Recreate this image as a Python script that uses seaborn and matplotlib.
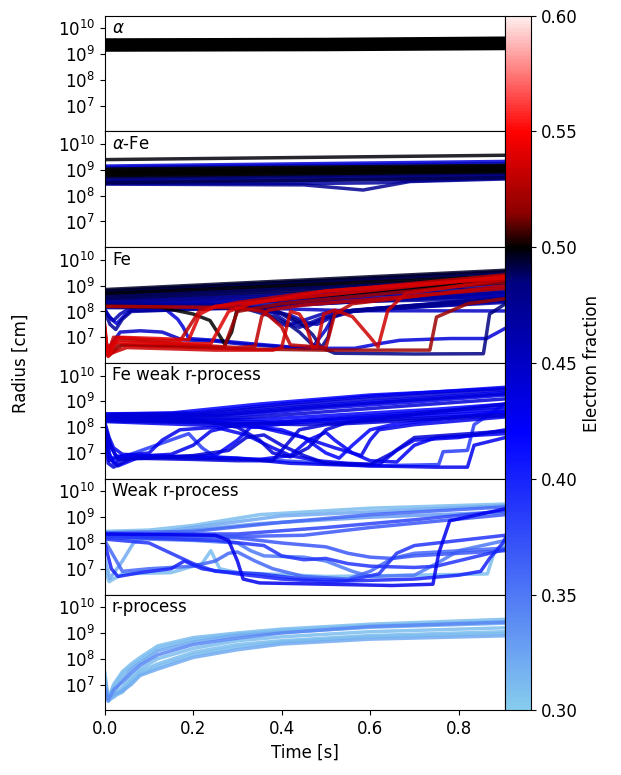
import numpy as np
import pandas as pd
import matplotlib
matplotlib.use('Agg')
import matplotlib.pyplot as plt
import seaborn as sns
from matplotlib.colors import LinearSegmentedColormap, Normalize
from matplotlib.cm import ScalarMappable
from matplotlib.ticker import NullLocator

# trajectories: lists of (time [s], log10 radius [cm]),
# each with its electron fraction

ALPHA_YE = [0.5, 0.5, 0.5, 0.5, 0.5, 0.5, 0.5, 0.5, 0.5, 0.5]
ALPHA_TRACKS = [
    [(0, 9.16), (0.5, 9.18), (0.906, 9.22)],
    [(0, 9.20), (0.5, 9.22), (0.906, 9.26)],
    [(0, 9.25), (0.5, 9.27), (0.906, 9.31)],
    [(0, 9.30), (0.5, 9.32), (0.906, 9.36)],
    [(0, 9.34), (0.5, 9.36), (0.906, 9.41)],
    [(0, 9.39), (0.5, 9.41), (0.906, 9.46)],
    [(0, 9.43), (0.5, 9.45), (0.906, 9.50)],
    [(0, 9.48), (0.5, 9.50), (0.906, 9.55)],
    [(0, 9.52), (0.5, 9.54), (0.906, 9.59)],
    [(0, 9.55), (0.5, 9.57), (0.906, 9.62)],
]

ALPHAFE_YE = [0.499, 0.44, 0.45, 0.5, 0.5, 0.5, 0.5, 0.5, 0.5, 0.49, 0.485, 0.48,
              0.48, 0.475, 0.47, 0.49]
ALPHAFE_TRACKS = [
    [(0, 9.40), (0.906, 9.57)],
    [(0, 9.15), (0.906, 9.33)],
    [(0, 9.09), (0.906, 9.25)],
    [(0, 9.03), (0.906, 9.18)],
    [(0, 8.98), (0.906, 9.13)],
    [(0, 8.93), (0.906, 9.08)],
    [(0, 8.88), (0.906, 9.03)],
    [(0, 8.83), (0.906, 8.98)],
    [(0, 8.78), (0.906, 8.93)],
    [(0, 8.72), (0.906, 8.89)],
    [(0, 8.66), (0.906, 8.83)],
    [(0, 8.60), (0.906, 8.78)],
    [(0, 8.54), (0.5, 8.60), (0.906, 8.72)],
    [(0, 8.45), (0.45, 8.42), (0.584, 8.22), (0.69, 8.55), (0.906, 8.65)],
    [(0, 8.48), (0.5, 8.48), (0.62, 8.50), (0.70, 8.58), (0.906, 8.68)],
    [(0, 8.50), (0.906, 8.70)],
]

FE_YE = [0.495, 0.49, 0.485, 0.5, 0.48, 0.47, 0.49, 0.46, 0.48, 0.47, 0.46, 0.45, 0.47,
         0.49, 0.48,
         0.53, 0.54, 0.52, 0.53, 0.535, 0.52, 0.54, 0.53,
         0.5, 0.44, 0.45,
         0.46, 0.465, 0.47, 0.46, 0.48, 0.485, 0.45, 0.46, 0.47]
FE_TRACKS = [
    [(0, 8.85), (0.906, 9.60)],
    [(0, 8.80), (0.906, 9.52)],
    [(0, 8.75), (0.906, 9.45)],
    [(0, 8.70), (0.906, 9.38)],
    [(0, 8.65), (0.906, 9.30)],
    [(0, 8.55), (0.906, 9.20)],
    [(0, 8.50), (0.906, 9.10)],
    [(0, 8.45), (0.906, 9.00)],
    [(0, 8.40), (0.906, 8.90)],
    [(0, 8.35), (0.906, 8.80)],
    [(0, 8.30), (0.906, 8.70)],
    [(0, 8.25), (0.906, 8.60)],
    [(0, 8.20), (0.906, 8.50)],
    [(0, 8.60), (0.906, 9.25)],
    [(0, 8.78), (0.906, 9.55)],
    # red (proton-rich) trajectories
    [(0, 7.4), (0.006, 6.3), (0.02, 7.0), (0.1, 6.9), (0.17, 6.85), (0.215, 8.05),
     (0.3, 8.35), (0.45, 8.7), (0.906, 9.42)],
    [(0, 7.2), (0.008, 6.25), (0.025, 6.8), (0.15, 6.75), (0.24, 6.75), (0.28, 8.0),
     (0.33, 8.3), (0.5, 8.8), (0.906, 9.3)],
    [(0, 7.0), (0.01, 6.3), (0.03, 6.7), (0.2, 6.65), (0.27, 6.6), (0.3, 8.0),
     (0.4, 8.3), (0.906, 9.15)],
    [(0, 7.3), (0.006, 6.4), (0.03, 6.9), (0.2, 6.7), (0.3, 6.6), (0.34, 6.65),
     (0.355, 7.8), (0.37, 8.05), (0.45, 8.25), (0.906, 8.9)],
    [(0, 6.9), (0.01, 6.35), (0.05, 6.6), (0.25, 6.5), (0.38, 6.5), (0.4, 6.6),
     (0.42, 8.0), (0.44, 7.9), (0.455, 7.5), (0.47, 6.6), (0.48, 6.65), (0.495, 7.9),
     (0.52, 8.05), (0.56, 7.8), (0.6, 7.0), (0.618, 6.62), (0.64, 8.04), (0.68, 8.7),
     (0.906, 9.25)],
    [(0, 7.1), (0.01, 6.3), (0.04, 6.7), (0.3, 6.55), (0.5, 6.5), (0.735, 6.5),
     (0.75, 7.78), (0.82, 8.3), (0.906, 8.5)],
    [(0, 7.5), (0.005, 6.5), (0.03, 7.0), (0.12, 6.95), (0.19, 6.9), (0.2, 7.3),
     (0.215, 7.9), (0.25, 8.2), (0.906, 9.35)],
    [(0, 8.2), (0.3, 8.15), (0.36, 8.0), (0.4, 7.4), (0.42, 6.7), (0.5, 6.6),
     (0.52, 7.9), (0.56, 8.3), (0.906, 9.0)],
    # black and blue excursions
    [(0, 8.2), (0.125, 8.17), (0.2, 7.9), (0.238, 7.65), (0.262, 7.0), (0.272, 6.72),
     (0.287, 7.2), (0.298, 8.0), (0.33, 8.37), (0.906, 9.2)],
    [(0, 8.04), (0.015, 7.7), (0.027, 7.53), (0.045, 7.85), (0.06, 8.04), (0.14, 8.05),
     (0.165, 7.7), (0.177, 7.4), (0.19, 6.95), (0.25, 6.88), (0.33, 6.75), (0.4, 6.65),
     (0.45, 6.57), (0.565, 6.57), (0.62, 6.75), (0.667, 6.88), (0.78, 6.95),
     (0.863, 6.95), (0.906, 7.35)],
    [(0, 6.5), (0.01, 6.6), (0.035, 7.2), (0.08, 7.25), (0.13, 7.2), (0.175, 6.9),
     (0.25, 6.85), (0.3, 6.75), (0.42, 6.6), (0.47, 6.62), (0.5, 7.3), (0.52, 7.9),
     (0.6, 8.1), (0.906, 8.5)],
    [(0, 8.3), (0.3, 8.25), (0.36, 8.0), (0.39, 7.6), (0.41, 7.45), (0.44, 7.6),
     (0.5, 7.95), (0.906, 8.55)],
    [(0, 8.25), (0.32, 8.2), (0.38, 7.95), (0.42, 7.5), (0.44, 7.38), (0.47, 7.6),
     (0.52, 7.95), (0.906, 8.45)],
    [(0, 8.2), (0.34, 8.15), (0.4, 7.9), (0.44, 7.5), (0.46, 7.42), (0.49, 7.7),
     (0.55, 8.0), (0.906, 8.4)],
    [(0, 8.15), (0.36, 8.1), (0.42, 7.85), (0.46, 7.55), (0.48, 7.5), (0.51, 7.75),
     (0.57, 8.05), (0.906, 8.35)],
    [(0, 8.28), (0.3, 8.2), (0.38, 7.8), (0.42, 7.45), (0.44, 7.2), (0.47, 6.7),
     (0.49, 6.6), (0.505, 7.0), (0.515, 7.8), (0.56, 8.05), (0.906, 8.5)],
    [(0, 8.22), (0.38, 8.1), (0.44, 7.6), (0.47, 7.1), (0.49, 6.6), (0.52, 6.38),
     (0.7, 6.35), (0.856, 6.36), (0.862, 7.0), (0.87, 7.9), (0.906, 8.3)],
    [(0, 8.18), (0.3, 8.15), (0.45, 8.08), (0.55, 8.03), (0.906, 8.02)],
    [(0, 8.1), (0.01, 7.8), (0.02, 7.65), (0.035, 7.9), (0.05, 8.05), (0.3, 8.15),
     (0.906, 8.65)],
    [(0, 8.0), (0.012, 7.5), (0.025, 7.3), (0.04, 7.7), (0.06, 8.0), (0.4, 8.2),
     (0.906, 8.75)],
]

FEWEAK_YE = [0.43, 0.44, 0.42, 0.43, 0.44, 0.42, 0.43, 0.44,
             0.43, 0.42, 0.44, 0.43, 0.425, 0.44, 0.43, 0.385, 0.44, 0.42, 0.43,
             0.42, 0.44]
FEWEAK_TRACKS = [
    [(0, 8.52), (0.2, 8.55), (0.4, 8.9), (0.6, 9.2), (0.906, 9.55)],
    [(0, 8.48), (0.2, 8.5), (0.4, 8.82), (0.6, 9.1), (0.906, 9.45)],
    [(0, 8.45), (0.25, 8.5), (0.45, 8.8), (0.65, 9.05), (0.906, 9.35)],
    [(0, 8.4), (0.3, 8.45), (0.5, 8.75), (0.7, 8.98), (0.906, 9.25)],
    [(0, 8.35), (0.3, 8.35), (0.5, 8.6), (0.7, 8.85), (0.906, 9.1)],
    [(0, 8.3), (0.35, 8.3), (0.55, 8.5), (0.75, 8.7), (0.906, 8.9)],
    [(0, 8.27), (0.4, 8.2), (0.6, 8.4), (0.906, 8.7)],
    [(0, 8.25), (0.45, 8.1), (0.65, 8.3), (0.906, 8.5)],
    [(0, 8.2), (0.01, 7.6), (0.02, 7.2), (0.04, 6.95), (0.1, 6.9), (0.2, 6.85),
     (0.3, 6.8), (0.42, 6.6), (0.6, 6.5), (0.75, 6.45), (0.82, 6.45), (0.835, 7.3),
     (0.906, 7.6)],
    [(0, 8.15), (0.01, 7.4), (0.025, 6.9), (0.05, 6.8), (0.15, 6.85), (0.25, 6.9),
     (0.3, 7.5), (0.33, 8.0), (0.45, 8.2), (0.906, 8.6)],
    [(0, 8.1), (0.015, 7.2), (0.03, 6.75), (0.1, 6.8), (0.2, 6.9), (0.28, 7.1),
     (0.32, 7.6), (0.36, 7.7), (0.4, 7.3), (0.45, 6.9), (0.5, 6.6), (0.6, 6.55),
     (0.65, 7.0), (0.7, 7.6), (0.906, 7.85)],
    [(0, 8.05), (0.01, 7.0), (0.02, 6.6), (0.05, 6.85), (0.15, 6.95), (0.2, 7.3),
     (0.24, 7.85), (0.3, 8.1), (0.906, 8.8)],
    [(0, 8.0), (0.012, 6.8), (0.03, 6.5), (0.08, 6.85), (0.2, 6.8), (0.35, 6.75),
     (0.42, 6.9), (0.46, 7.5), (0.5, 7.8), (0.52, 7.5), (0.56, 7.0), (0.6, 6.7),
     (0.66, 6.65), (0.7, 7.3), (0.75, 7.6), (0.906, 7.75)],
    [(0, 7.9), (0.008, 6.6), (0.02, 6.45), (0.06, 6.8), (0.2, 6.75), (0.3, 6.7),
     (0.38, 6.7), (0.41, 7.3), (0.44, 7.9), (0.5, 8.1), (0.906, 8.45)],
    [(0, 7.8), (0.01, 6.7), (0.04, 6.9), (0.1, 7.0), (0.13, 7.5), (0.17, 7.9),
     (0.25, 8.0), (0.32, 7.7), (0.38, 7.2), (0.42, 6.9), (0.48, 6.7), (0.55, 6.6),
     (0.62, 6.55), (0.66, 7.1), (0.7, 7.5), (0.8, 7.6), (0.906, 7.9)],
    [(0, 7.5), (0.01, 6.8), (0.05, 6.9), (0.19, 7.75), (0.22, 7.2), (0.25, 6.85),
     (0.4, 6.7), (0.6, 6.5), (0.755, 6.55), (0.765, 7.05), (0.82, 7.1), (0.835, 8.1),
     (0.906, 8.92)],
    [(0, 8.35), (0.2, 8.3), (0.3, 8.0), (0.35, 7.5), (0.38, 7.0), (0.42, 6.85),
     (0.46, 7.2), (0.5, 7.9), (0.55, 8.2), (0.906, 8.9)],
    [(0, 8.3), (0.25, 8.2), (0.4, 7.9), (0.45, 7.6), (0.5, 7.0), (0.53, 6.8),
     (0.56, 7.3), (0.6, 7.9), (0.65, 8.1), (0.906, 8.6)],
    [(0, 8.22), (0.35, 8.0), (0.45, 7.6), (0.52, 7.2), (0.58, 6.9), (0.6, 7.5),
     (0.62, 7.9), (0.7, 8.1), (0.906, 8.4)],
    [(0, 8.5), (0.15, 8.55), (0.35, 8.9), (0.6, 9.25), (0.906, 9.5)],
    [(0, 8.42), (0.25, 8.45), (0.45, 8.75), (0.65, 9.0), (0.906, 9.3)],
]

WEAK_YE = [0.31, 0.32, 0.36, 0.38, 0.43, 0.37, 0.35, 0.39, 0.36, 0.40, 0.31, 0.37,
           0.39, 0.33]
WEAK_TRACKS = [
    [(0, 8.45), (0.1, 8.5), (0.2, 8.68), (0.35, 9.1), (0.6, 9.35), (0.906, 9.51)],
    [(0, 7.4), (0.012, 6.62), (0.04, 7.3), (0.065, 8.0), (0.12, 8.4), (0.2, 8.6),
     (0.4, 9.05), (0.906, 9.45)],
    [(0, 8.4), (0.2, 8.45), (0.4, 8.8), (0.6, 9.1), (0.906, 9.4)],
    [(0, 8.35), (0.3, 8.35), (0.5, 8.6), (0.7, 8.9), (0.906, 9.25)],
    [(0, 8.35), (0.25, 8.3), (0.28, 8.1), (0.3, 7.3), (0.313, 6.6), (0.35, 6.45),
     (0.5, 6.4), (0.65, 6.35), (0.742, 6.4), (0.755, 7.6), (0.78, 8.86), (0.906, 9.33)],
    [(0, 8.3), (0.3, 8.25), (0.45, 8.3), (0.6, 8.6), (0.906, 9.1)],
    [(0, 8.2), (0.2, 8.1), (0.3, 8.0), (0.33, 7.7), (0.36, 7.5), (0.45, 7.45),
     (0.5, 7.3), (0.56, 6.9), (0.6, 6.7), (0.7, 6.75), (0.75, 7.2), (0.8, 7.7),
     (0.906, 8.1)],
    [(0, 8.25), (0.25, 8.1), (0.36, 7.9), (0.4, 7.5), (0.45, 7.35), (0.5, 7.4),
     (0.55, 7.2), (0.6, 7.1), (0.7, 7.05), (0.75, 7.1), (0.906, 7.75)],
    [(0, 8.1), (0.02, 7.5), (0.04, 6.9), (0.1, 7.0), (0.2, 7.1), (0.25, 7.3),
     (0.28, 7.6), (0.3, 7.65), (0.34, 7.3), (0.38, 7.0), (0.45, 6.7), (0.55, 6.6),
     (0.6, 6.9), (0.65, 7.4), (0.7, 7.6), (0.906, 7.8)],
    [(0, 8.0), (0.015, 7.0), (0.03, 6.7), (0.08, 6.85), (0.15, 7.0), (0.18, 7.3),
     (0.22, 7.0), (0.3, 6.8), (0.4, 6.6), (0.5, 6.5), (0.6, 6.55), (0.7, 6.6),
     (0.8, 6.75), (0.85, 6.9), (0.87, 7.4), (0.9, 8.0), (0.906, 8.2)],
    [(0, 7.0), (0.01, 6.5), (0.04, 6.8), (0.15, 6.85), (0.22, 7.2), (0.24, 7.7),
     (0.26, 7.0), (0.3, 6.85), (0.5, 6.7), (0.7, 6.75), (0.865, 6.8), (0.88, 7.6),
     (0.906, 7.95)],
    [(0, 8.28), (0.3, 8.2), (0.4, 8.0), (0.5, 7.85), (0.55, 7.6), (0.6, 7.45),
     (0.65, 7.4), (0.7, 7.5), (0.8, 7.6), (0.906, 7.7)],
    [(0, 8.15), (0.1, 8.0), (0.15, 7.6), (0.2, 7.2), (0.25, 6.9), (0.35, 6.8),
     (0.45, 6.6), (0.55, 6.55), (0.62, 6.8), (0.66, 7.6), (0.7, 7.9), (0.906, 8.3)],
    [(0, 8.2), (0.05, 8.2), (0.1, 8.3), (0.2, 8.5), (0.35, 8.75), (0.6, 9.0),
     (0.906, 9.2)],
]

RPROC_TIMES = [0, 0.008, 0.02, 0.04, 0.06, 0.08, 0.12, 0.2, 0.3, 0.4, 0.6, 0.906]
RPROC_YE = [0.31, 0.31, 0.32, 0.34, 0.31, 0.31, 0.32, 0.31]
RPROC_LOGR = [
    [7.5, 6.45, 7.0, 7.5, 7.8, 8.05, 8.5, 8.82, 9.0, 9.15, 9.34, 9.53],
    [7.3, 6.4, 6.9, 7.4, 7.7, 7.95, 8.4, 8.75, 8.95, 9.1, 9.28, 9.45],
    [7.1, 6.35, 6.7, 7.2, 7.6, 7.85, 8.3, 8.65, 8.9, 9.02, 9.22, 9.38],
    [6.9, 6.4, 6.8, 7.1, 7.45, 7.75, 8.15, 8.55, 8.8, 9.0, 9.25, 9.42],
    [7.0, 6.5, 6.6, 6.9, 7.3, 7.6, 8.0, 8.4, 8.7, 8.85, 9.05, 9.2],
    [6.8, 6.4, 6.5, 6.8, 7.15, 7.5, 7.8, 8.25, 8.55, 8.7, 8.9, 9.05],
    [7.2, 6.45, 6.6, 6.75, 7.0, 7.35, 7.6, 8.05, 8.35, 8.57, 8.76, 8.89],
    [6.9, 6.35, 6.55, 6.7, 7.1, 7.4, 7.7, 8.15, 8.45, 8.65, 8.85, 8.98],
]
RPROC_TRACKS = [list(zip(RPROC_TIMES, row)) for row in RPROC_LOGR]

PANEL_LABELS = [r'$\alpha$', r'$\alpha$-Fe', 'Fe', 'Fe weak r-process',
                'Weak r-process', 'r-process']
PANEL_DATA = [(ALPHA_TRACKS, ALPHA_YE), (ALPHAFE_TRACKS, ALPHAFE_YE),
              (FE_TRACKS, FE_YE), (FEWEAK_TRACKS, FEWEAK_YE),
              (WEAK_TRACKS, WEAK_YE), (RPROC_TRACKS, RPROC_YE)]

YE_MIN, YE_MAX = 0.3, 0.6
T_MAX = 0.906


def tracks_frame(tracks, ye):
    rows = []
    for i, (trk, y) in enumerate(zip(tracks, ye)):
        for t, lr in trk:
            rows.append({'t': t, 'r': 10.0 ** lr, 'track': i, 'ye': y})
    return pd.DataFrame(rows)


def ye_cmap():
    # sky blue -> blue -> navy -> black (Ye=0.5) -> dark red -> red -> near white
    def pos(v):
        return (v - YE_MIN) / (YE_MAX - YE_MIN)
    stops = [(pos(0.30), '#87cdee'), (pos(0.42), '#0000ff'), (pos(0.485), '#000080'),
             (pos(0.50), '#000000'), (pos(0.515), '#8b0000'), (pos(0.55), '#ff0000'),
             (pos(0.60), '#ffeeee')]
    return LinearSegmentedColormap.from_list('ye', stops)


sns.set_style('ticks', {'axes.edgecolor': 'black', 'xtick.color': 'black',
                        'ytick.color': 'black', 'text.color': 'black',
                        'axes.labelcolor': 'black'})
plt.rcParams['font.family'] = ['DejaVu Sans']
plt.rcParams['font.size'] = 12
plt.rcParams['mathtext.fontset'] = 'dejavusans'

cmap = ye_cmap()
norm = Normalize(vmin=YE_MIN, vmax=YE_MAX)

fig = plt.figure(figsize=(6.21, 7.75), dpi=100)
left, right = 0.1686, 0.814
bottom, top = 0.0835, 0.9797
n = len(PANEL_LABELS)
h = (top - bottom) / n

axes = []
for k, (label, (tracks, ye)) in enumerate(zip(PANEL_LABELS, PANEL_DATA)):
    ax = fig.add_axes([left, top - (k + 1) * h, right - left, h],
                      sharex=axes[0] if axes else None)
    df = tracks_frame(tracks, ye)
    sns.lineplot(data=df, x='t', y='r', units='track', estimator=None, hue='ye',
                 palette=cmap, hue_norm=norm, sort=False, legend=False,
                 linewidth=2.5, alpha=0.85 if k > 0 else 1.0, ax=ax)
    ax.set_yscale('log')
    ax.set_ylim(1e6, 3.1e10)
    ax.set_xlim(0, T_MAX)
    ax.set_yticks([1e7, 1e8, 1e9, 1e10])
    ax.yaxis.set_minor_locator(NullLocator())
    ax.tick_params(labelsize=12)
    ax.set_xlabel('')
    ax.set_ylabel('')
    ax.text(0.018, 0.97, label, transform=ax.transAxes, ha='left', va='top',
            fontsize=12)
    if k < n - 1:
        ax.tick_params(labelbottom=False)
    axes.append(ax)

axes[-1].set_xticks([0.0, 0.2, 0.4, 0.6, 0.8])
axes[-1].set_xlabel('Time [s]', fontsize=12)
fig.text(0.034, (top + bottom) / 2, 'Radius [cm]', rotation=90, ha='center',
         va='center', fontsize=12)

cax = fig.add_axes([right, bottom, 0.041, top - bottom])
cb = fig.colorbar(ScalarMappable(norm=norm, cmap=cmap), cax=cax)
cb.set_ticks([0.30, 0.35, 0.40, 0.45, 0.50, 0.55, 0.60])
cb.ax.set_yticklabels(['%.2f' % v for v in [0.30, 0.35, 0.40, 0.45, 0.50, 0.55, 0.60]])
cb.ax.tick_params(labelsize=12)
cb.set_label('Electron fraction', fontsize=12)
cb.outline.set_edgecolor('black')

fig.savefig('out.png', dpi=100)
